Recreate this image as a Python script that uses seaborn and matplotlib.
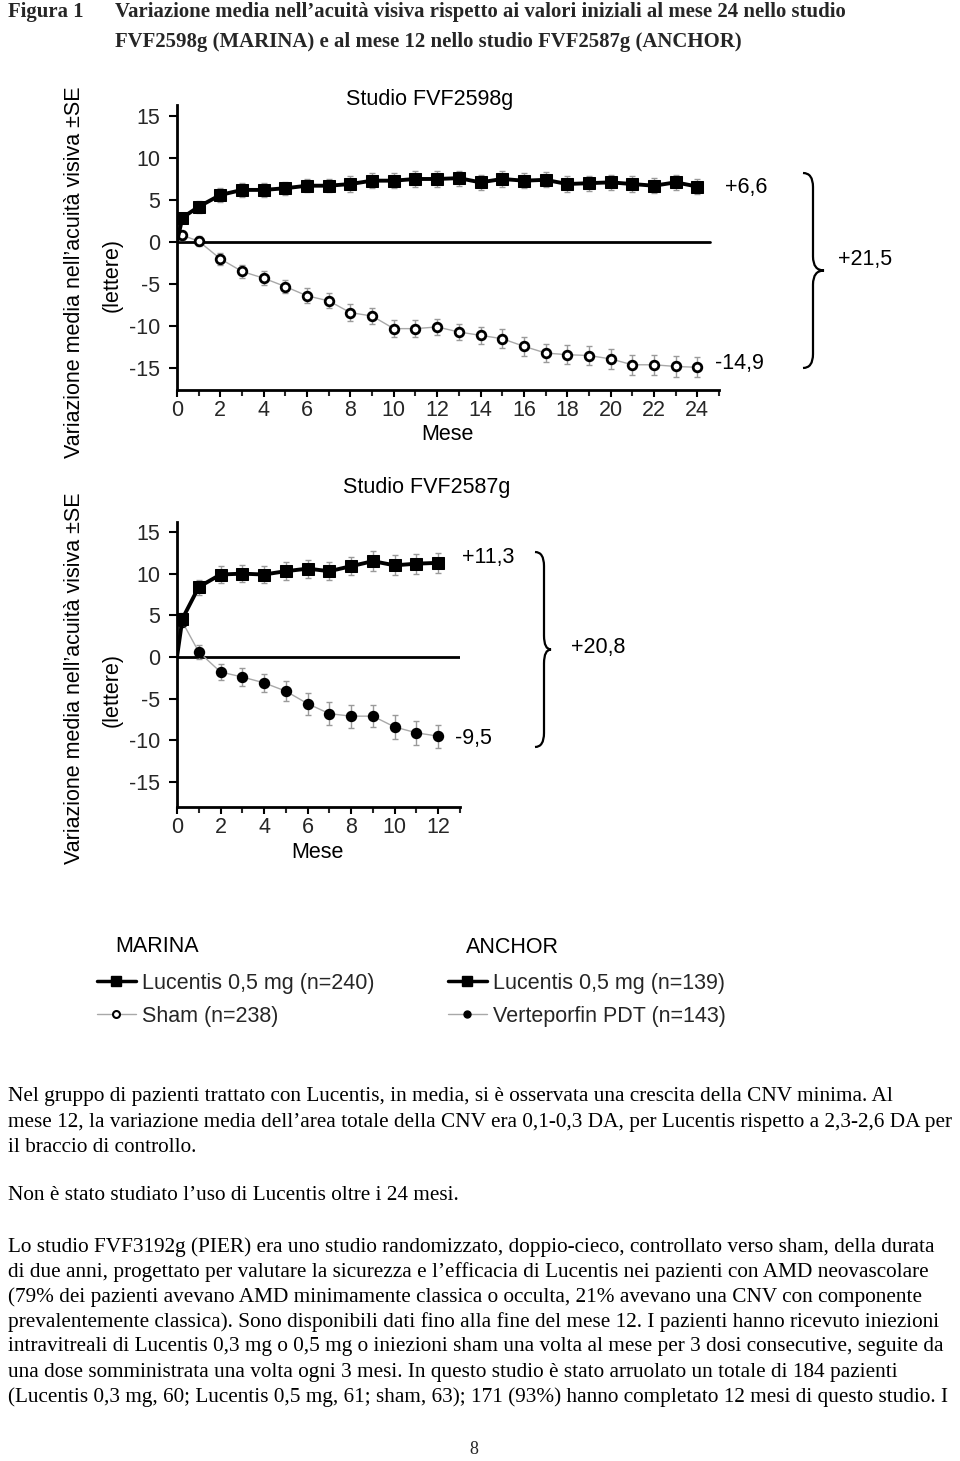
import matplotlib
matplotlib.use('Agg')
import matplotlib.pyplot as plt
from matplotlib.lines import Line2D
from matplotlib.path import Path
from matplotlib.patches import PathPatch
from matplotlib.ticker import MultipleLocator
import numpy as np
import pandas as pd
import seaborn as sns

# ---- data ----
months_marina = [0, 0.25, 1, 2, 3, 4, 5, 6, 7, 8, 9, 10, 11, 12,
                 13, 14, 15, 16, 17, 18, 19, 20, 21, 22, 23, 24]
lucentis_marina = [0, 2.9, 4.2, 5.6, 6.2, 6.2, 6.4, 6.7, 6.7, 6.9, 7.3, 7.3, 7.5, 7.5,
                   7.6, 7.1, 7.5, 7.3, 7.4, 6.9, 7.0, 7.1, 6.9, 6.7, 7.1, 6.6]
lucentis_marina_se = [0, 0.6, 0.7, 0.8, 0.8, 0.8, 0.8, 0.8, 0.8, 0.9, 0.9, 0.9, 0.9, 0.9,
                      0.9, 0.9, 0.9, 0.9, 0.9, 0.9, 0.9, 0.9, 0.9, 0.9, 0.9, 0.9]
sham_marina = [0, 0.8, 0.1, -2.0, -3.5, -4.3, -5.3, -6.4, -7.0, -8.4, -8.8, -10.3, -10.3, -10.1,
               -10.7, -11.1, -11.5, -12.4, -13.2, -13.4, -13.5, -13.9, -14.6, -14.6, -14.8, -14.9]
sham_marina_se = [0, 0.5, 0.6, 0.7, 0.8, 0.8, 0.8, 0.9, 0.9, 1.0, 1.0, 1.0, 1.0, 1.0,
                  1.0, 1.0, 1.1, 1.1, 1.1, 1.1, 1.1, 1.2, 1.2, 1.2, 1.2, 1.2]

months_anchor = [0, 0.25, 1, 2, 3, 4, 5, 6, 7, 8, 9, 10, 11, 12]
lucentis_anchor = [0, 4.6, 8.4, 9.9, 10.0, 9.9, 10.3, 10.6, 10.3, 10.9, 11.5, 11.0, 11.2, 11.3]
lucentis_anchor_se = [0, 0.7, 0.9, 1.0, 1.0, 1.0, 1.1, 1.1, 1.1, 1.1, 1.2, 1.2, 1.2, 1.2]
pdt_anchor = [0, 4.2, 0.6, -1.8, -2.4, -3.1, -4.1, -5.6, -6.8, -7.1, -7.1, -8.4, -9.1, -9.5]
pdt_anchor_se = [0, 0.6, 0.8, 1.0, 1.1, 1.1, 1.2, 1.3, 1.4, 1.4, 1.3, 1.4, 1.4, 1.4]

y_ticks = [-15, -10, -5, 0, 5, 10, 15]
ylabel_main = 'Variazione media nell’acuità visiva ±SE'
ylabel_unit = '(lettere)'

W, H = 960, 1461
FS = 15.5
sns.set_style('ticks')
plt.rcParams['font.family'] = ['Liberation Sans', 'DejaVu Sans']
plt.rcParams['axes.linewidth'] = 2
plt.rcParams['axes.unicode_minus'] = False

fig = plt.figure(figsize=(W / 100, H / 100), dpi=100)


def fx(px):
    return px / W


def fy(py):
    return 1 - py / H


def add_axes_px(left, top, right, bottom):
    return fig.add_axes([fx(left), fy(bottom), (right - left) / W, (bottom - top) / H])


def draw_panel(ax, months, treat, treat_se, ctrl, ctrl_se, ctrl_face, ctrl_size,
               xlim, ylim, zero_frac):
    df = pd.DataFrame({'Mese': months, 'treat': treat, 'ctrl': ctrl})
    marks = list(range(1, len(months)))
    # control arm: thin grey line
    ax.errorbar(months[1:], ctrl[1:], yerr=ctrl_se[1:], fmt='none',
                ecolor='#9a9a9a', elinewidth=1, capsize=2.5, capthick=1, zorder=2)
    sns.lineplot(data=df, x='Mese', y='ctrl', ax=ax, color='#a8a8a8', lw=1,
                 marker='o', markersize=ctrl_size, markerfacecolor=ctrl_face,
                 markeredgecolor='black', markeredgewidth=2, markevery=marks,
                 errorbar=None, zorder=3)
    # Lucentis arm: thick black line
    ax.errorbar(months[1:], treat[1:], yerr=treat_se[1:], fmt='none',
                ecolor='#9a9a9a', elinewidth=1, capsize=2.5, capthick=1, zorder=4)
    sns.lineplot(data=df, x='Mese', y='treat', ax=ax, color='black', lw=2.8,
                 marker='s', markersize=8.5, markerfacecolor='black',
                 markeredgecolor='black', markevery=marks, errorbar=None, zorder=5)
    ax.axhline(0, xmin=0, xmax=zero_frac, color='black', lw=2, zorder=1)
    ax.set_xlim(*xlim)
    ax.set_ylim(*ylim)
    ax.set_xlabel('')
    ax.set_ylabel('')
    ax.set_yticks(y_ticks)
    ax.set_xticks(np.arange(0, xlim[1], 2))
    ax.xaxis.set_minor_locator(MultipleLocator(1))
    ax.tick_params(axis='both', which='major', direction='out', labelsize=FS,
                   width=1.5, color='black')
    ax.tick_params(axis='x', which='major', length=5, pad=2)
    ax.tick_params(axis='x', which='minor', length=4, width=1.5, direction='out')
    ax.tick_params(axis='y', which='major', length=6, pad=6)
    sns.despine(ax=ax)
    for s in ('left', 'bottom'):
        ax.spines[s].set_linewidth(2)
        ax.spines[s].set_color('black')
    ax.set_facecolor('white')


# ---- top panel: MARINA ----
ax1 = add_axes_px(177, 105, 719, 390)
draw_panel(ax1, months_marina, lucentis_marina, lucentis_marina_se,
           sham_marina, sham_marina_se, 'white', 6.2,
           (0, 25), (-17.6, 16.3), 24.6 / 25)

# ---- bottom panel: ANCHOR ----
ax2 = add_axes_px(177, 522, 460, 807)
draw_panel(ax2, months_anchor, lucentis_anchor, lucentis_anchor_se,
           pdt_anchor, pdt_anchor_se, 'black', 6.2,
           (0, 13), (-18.0, 16.2), 1.0)

txt = dict(fontsize=FS, color='black')
fig.text(fx(430), fy(100), 'Studio FVF2598g', ha='center', va='center', **txt)
fig.text(fx(427), fy(488), 'Studio FVF2587g', ha='center', va='center', **txt)
fig.text(fx(447), fy(435), 'Mese', ha='center', va='center', **txt)
fig.text(fx(317), fy(853), 'Mese', ha='center', va='center', **txt)

for yc_main, yc_unit in ((272, 275), (678, 690)):
    fig.text(fx(75), fy(yc_main), ylabel_main, rotation=90, ha='center', va='center', **txt)
    fig.text(fx(112), fy(yc_unit), ylabel_unit, rotation=90, ha='center', va='center', **txt)

# end values and differences
fig.text(fx(725), fy(187), '+6,6', ha='left', va='center', **txt)
fig.text(fx(715), fy(364), '-14,9', ha='left', va='center', **txt)
fig.text(fx(838), fy(259), '+21,5', ha='left', va='center', **txt)
fig.text(fx(462), fy(558), '+11,3', ha='left', va='center', **txt)
fig.text(fx(455), fy(738), '-9,5', ha='left', va='center', **txt)
fig.text(fx(571), fy(648), '+20,8', ha='left', va='center', **txt)


def brace(x0, x1, x2, yt, yb, r=14):
    ym = (yt + yb) / 2
    pts = [(x0, yt), (x1, yt), (x1, yt + r), (x1, ym - r), (x1, ym), (x2, ym),
           (x1, ym), (x1, ym + r), (x1, yb - r), (x1, yb), (x0, yb)]
    codes = [Path.MOVETO, Path.CURVE3, Path.CURVE3, Path.LINETO, Path.CURVE3, Path.CURVE3,
             Path.CURVE3, Path.CURVE3, Path.LINETO, Path.CURVE3, Path.CURVE3]
    verts = [(fx(x), fy(y)) for x, y in pts]
    fig.patches.append(PathPatch(Path(verts, codes), transform=fig.transFigure,
                                 fill=False, lw=1.6, color='black'))


brace(803, 813, 824, 173, 368)
brace(535, 544, 551, 552, 747)

# ---- legends ----
fig.text(fx(115), fy(946), 'MARINA', ha='left', va='center', **txt)
fig.text(fx(466), fy(948), 'ANCHOR', ha='left', va='center', **txt)


def legend_block(x_px, y_px, handles, labels):
    fig.legend(handles, labels, loc='upper left',
               bbox_to_anchor=(fx(x_px), fy(y_px)), frameon=False, fontsize=FS,
               handlelength=1.8, handletextpad=0.3, labelspacing=0.55,
               borderpad=0, borderaxespad=0)


luc_h = Line2D([], [], color='black', lw=2.5, marker='s', markersize=7)
sham_h = Line2D([], [], color='#a8a8a8', lw=1, marker='o', markersize=5,
                markerfacecolor='white', markeredgecolor='black', markeredgewidth=1.5)
pdt_h = Line2D([], [], color='#a8a8a8', lw=1, marker='o', markersize=5,
               markerfacecolor='black', markeredgecolor='black')
legend_block(97, 973, [luc_h, sham_h], ['Lucentis 0,5 mg (n=240)', 'Sham (n=238)'])
legend_block(448, 973, [luc_h, pdt_h], ['Lucentis 0,5 mg (n=139)', 'Verteporfin PDT (n=143)'])

# ---- page text ----
serif = ['Liberation Serif', 'DejaVu Serif']
renderer = fig.canvas.get_renderer()


def fit_size(s, target_px, base, weight='normal'):
    t = fig.text(0, 0, s, fontsize=base, family=serif, weight=weight)
    w = t.get_window_extent(renderer).width
    t.remove()
    return base * target_px / w


head_size = fit_size('Variazione media nell’acuità visiva rispetto ai valori iniziali al mese 24 nello studio',
                     730, 13, 'bold')
fig.text(fx(8), fy(12), 'Figura 1', fontsize=head_size, family=serif, weight='bold', va='center')
fig.text(fx(115), fy(12), 'Variazione media nell’acuità visiva rispetto ai valori iniziali al mese 24 nello studio',
         fontsize=head_size, family=serif, weight='bold', va='center')
fig.text(fx(115), fy(42), 'FVF2598g (MARINA) e al mese 12 nello studio FVF2587g (ANCHOR)',
         fontsize=head_size, family=serif, weight='bold', va='center')

body_lines = [
    (1097, 'Nel gruppo di pazienti trattato con Lucentis, in media, si è osservata una crescita della CNV minima. Al'),
    (1122, 'mese 12, la variazione media dell’area totale della CNV era 0,1-0,3 DA, per Lucentis rispetto a 2,3-2,6 DA per'),
    (1147, 'il braccio di controllo.'),
    (1196, 'Non è stato studiato l’uso di Lucentis oltre i 24 mesi.'),
    (1247, 'Lo studio FVF3192g (PIER) era uno studio randomizzato, doppio-cieco, controllato verso sham, della durata'),
    (1272, 'di due anni, progettato per valutare la sicurezza e l’efficacia di Lucentis nei pazienti con AMD neovascolare'),
    (1297, '(79% dei pazienti avevano AMD minimamente classica o occulta, 21% avevano una CNV con componente'),
    (1322, 'prevalentemente classica). Sono disponibili dati fino alla fine del mese 12. I pazienti hanno ricevuto iniezioni'),
    (1347, 'intravitreali di Lucentis 0,3 mg o 0,5 mg o iniezioni sham una volta al mese per 3 dosi consecutive, seguite da'),
    (1372, 'una dose somministrata una volta ogni 3 mesi. In questo studio è stato arruolato un totale di 184 pazienti'),
    (1397, '(Lucentis 0,3 mg, 60; Lucentis 0,5 mg, 61; sham, 63); 171 (93%) hanno completato 12 mesi di questo studio. I'),
]
body_size = fit_size(body_lines[4][1], 932, 14)
for yy, line in body_lines:
    fig.text(fx(8), fy(yy), line, fontsize=body_size, family=serif, va='center', color='black')
fig.text(fx(474), fy(1450), '8', fontsize=body_size * 0.85, family=serif, ha='center', va='center')

fig.savefig('out.png', dpi=100, facecolor='white')
